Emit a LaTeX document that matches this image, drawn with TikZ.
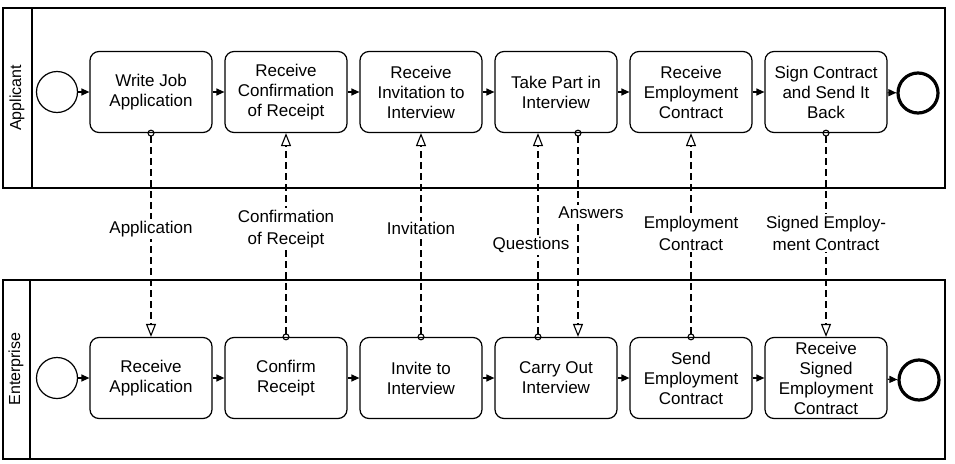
\documentclass[tikz,border=0pt]{standalone}
\usepackage{fontspec}
\setmainfont{Liberation Sans}
\usetikzlibrary{arrows.meta}

\begin{document}
\begin{tikzpicture}[x=1pt, y=-1pt,
    task/.style={draw, rectangle, rounded corners=9pt, line width=1.2pt, minimum width=122pt, minimum height=81pt, inner sep=1pt, align=center, font=\fontsize{17}{20}\selectfont},
    startev/.style={draw, circle, line width=1.2pt, minimum size=41pt, inner sep=0pt},
    endev/.style={draw, circle, line width=3.2pt, minimum size=40pt, inner sep=0pt},
    seq/.style={-{Triangle[length=8pt,width=7pt]}, line width=1.2pt},
    msg/.style={{Circle[open,length=7pt,line width=1.1pt]}-{Triangle[open,length=13pt,width=10pt,line width=1.1pt]}, line width=1.6pt, dash pattern=on 7pt off 4pt, shorten <=-3.5pt},
    msglabel/.style={fill=white, inner sep=2pt, align=center, font=\fontsize{17}{22}\selectfont},
    pool/.style={draw, line width=1.4pt},
    poollabel/.style={rotate=90, font=\fontsize{16}{19}\selectfont}]
    \path[use as bounding box, fill=white] (0,0) rectangle (955,463);
    % pools
    \draw[pool] (3,8) rectangle (945,188);
    \draw[pool] (32,8) -- (32,188);
    \node[poollabel] (appLabel) at (17,98) {Applicant};
    \draw[pool] (3,280) rectangle (945,459);
    \draw[pool] (30,280) -- (30,459);
    \node[poollabel] (entLabel) at (16,369) {Enterprise};
    % applicant lane
    \node[startev] (appStart) at (57,92) {};
    \node[task] (app1) at (151,92) {Write Job\\Application};
    \node[task] (app2) at (286,92) {Receive\\Confirmation\\of Receipt};
    \node[task] (app3) at (421,92) {Receive\\Invitation to\\Interview};
    \node[task] (app4) at (556,92) {Take Part in\\Interview};
    \node[task] (app5) at (691,92) {Receive\\Employment\\Contract};
    \node[task] (app6) at (826,92) {Sign Contract\\and Send It\\Back};
    \node[endev] (appEnd) at (918,93) {};
    % enterprise lane
    \node[startev] (entStart) at (57,378) {};
    \node[task] (ent1) at (151,378) {Receive\\Application};
    \node[task] (ent2) at (286,378) {Confirm\\Receipt};
    \node[task] (ent3) at (421,378) {Invite to\\Interview};
    \node[task] (ent4) at (556,378) {Carry Out\\Interview};
    \node[task] (ent5) at (691,378) {Send\\Employment\\Contract};
    \node[task] (ent6) at (826,378) {Receive\\Signed\\Employment\\Contract};
    \node[endev] (entEnd) at (919,380) {};
    % sequence flows
    \draw[seq] (appStart) -- (app1);
    \draw[seq] (app1) -- (app2);
    \draw[seq] (app2) -- (app3);
    \draw[seq] (app3) -- (app4);
    \draw[seq] (app4) -- (app5);
    \draw[seq] (app5) -- (app6);
    \draw[seq] (app6) -- (appEnd);
    \draw[seq] (entStart) -- (ent1);
    \draw[seq] (ent1) -- (ent2);
    \draw[seq] (ent2) -- (ent3);
    \draw[seq] (ent3) -- (ent4);
    \draw[seq] (ent4) -- (ent5);
    \draw[seq] (ent5) -- (ent6);
    \draw[seq] (ent6) -- (entEnd);
    % message flows
    \draw[msg] (app1.south) -- node[msglabel, pos=0.47] {Application} (ent1.north);
    \draw[msg] (ent2.north) -- node[msglabel, pos=0.53] {Confirmation\\of Receipt} (app2.south);
    \draw[msg] (ent3.north) -- node[msglabel, pos=0.53] {Invitation} (app3.south);
    \draw[msg] ([xshift=-18pt]ent4.north) -- node[msglabel, pos=0.45, xshift=-7pt] {Questions} ([xshift=-18pt]app4.south);
    \draw[msg] ([xshift=22pt]app4.south) -- node[msglabel, pos=0.39, xshift=13pt] {Answers} ([xshift=22pt]ent4.north);
    \draw[msg] (ent5.north) -- node[msglabel, pos=0.51] {Employment\\Contract} (app5.south);
    \draw[msg] (app6.south) -- node[msglabel, pos=0.49] {Signed Employ-\\ment Contract} (ent6.north);
\end{tikzpicture}
\end{document}
